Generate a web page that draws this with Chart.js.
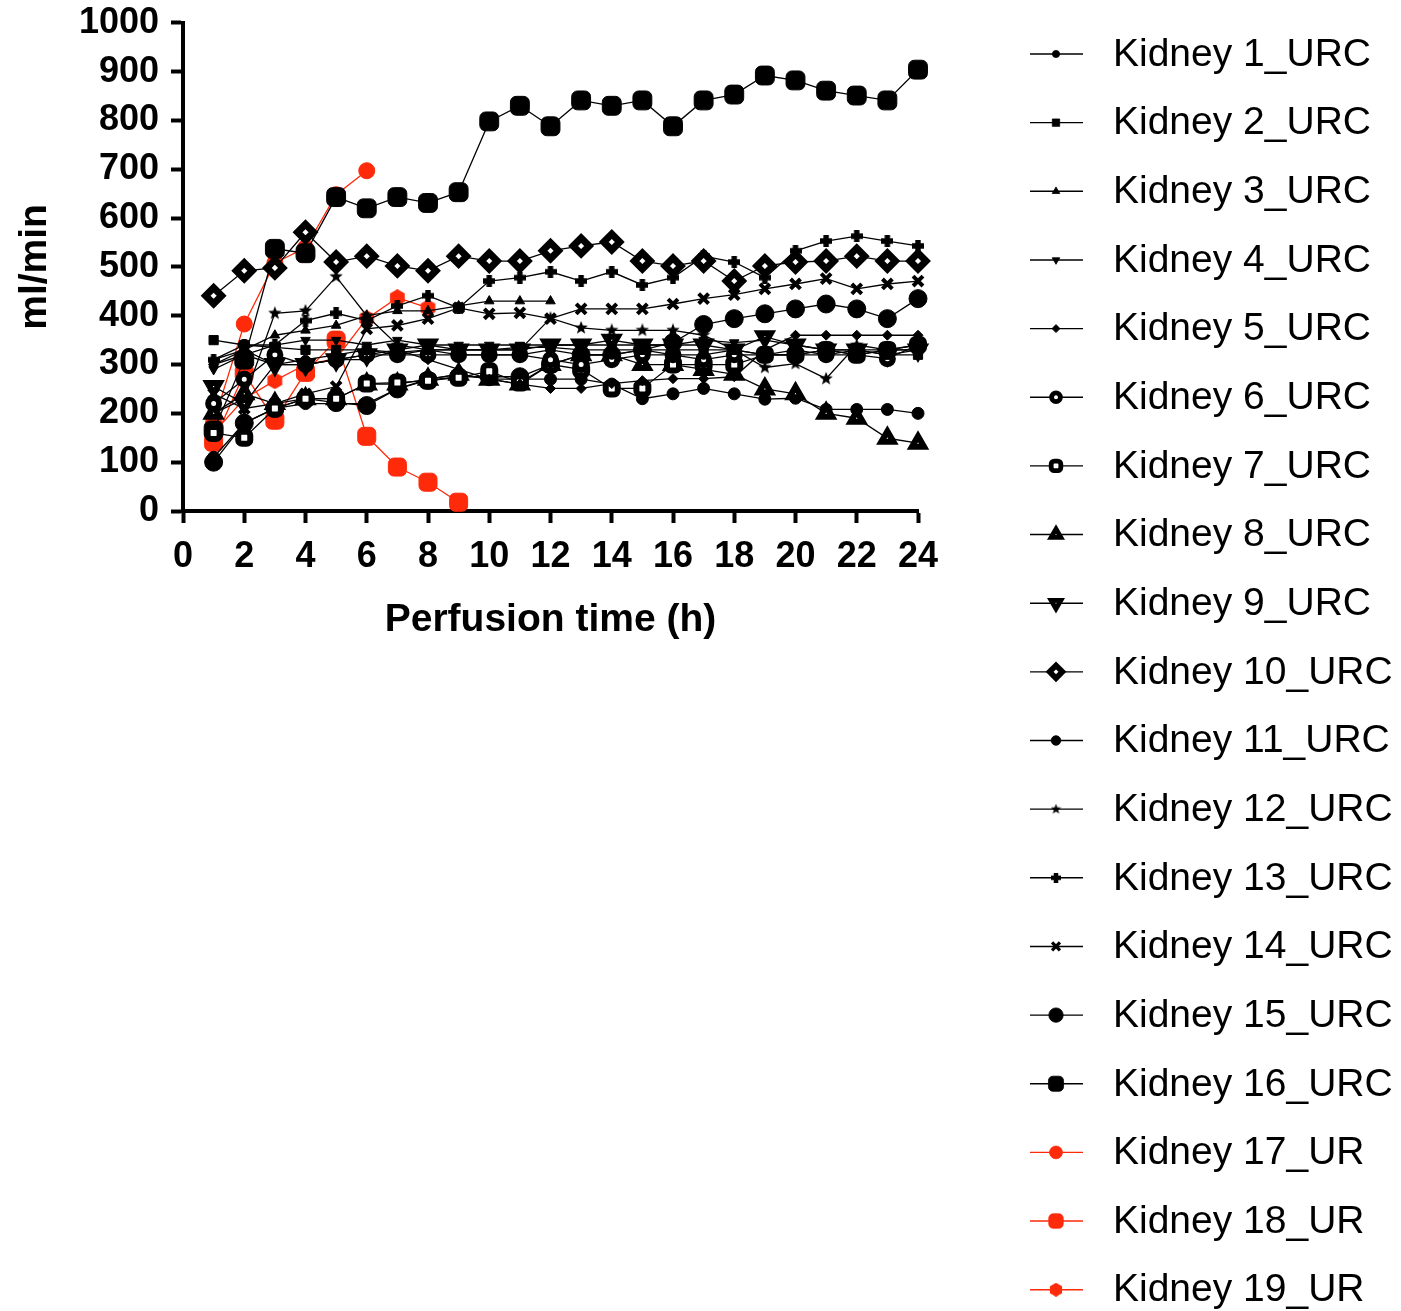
<!DOCTYPE html>
<html>
<head>
<meta charset="utf-8">
<script src="https://cdn.jsdelivr.net/npm/chart.js@4.4.1/dist/chart.umd.min.js"></script>
<style>
  html, body { margin: 0; padding: 0; background: #fff; }
  #wrap { width: 1401px; height: 1311px; position: relative; }
</style>
</head>
<body>
<div id="wrap"><canvas id="perfChart" width="1401" height="1311"></canvas></div>
<script>
// perfusion flow per kidney, hours 1..24 (ml/min)
const hours = [1, 2, 3, 4, 5, 6, 7, 8, 9, 10, 11, 12, 13, 14, 15, 16, 17, 18, 19, 20, 21, 22, 23, 24];
const xTicks = [0, 2, 4, 6, 8, 10, 12, 14, 16, 18, 20, 22, 24];
const yTicks = [0, 100, 200, 300, 400, 500, 600, 700, 800, 900, 1000];

const kidneyNames = [
    'Kidney 1_URC', 'Kidney 2_URC', 'Kidney 3_URC', 'Kidney 4_URC', 'Kidney 5_URC',
    'Kidney 6_URC', 'Kidney 7_URC', 'Kidney 8_URC', 'Kidney 9_URC', 'Kidney 10_URC',
    'Kidney 11_URC', 'Kidney 12_URC', 'Kidney 13_URC', 'Kidney 14_URC', 'Kidney 15_URC',
    'Kidney 16_URC', 'Kidney 17_UR', 'Kidney 18_UR', 'Kidney 19_UR'
];

const k1 = [300, 320, 300, 310, 320, 330, 320, 330, 320, 320, 320, 330, 320, 320, 330, 320, 320, 330, 320, 320, 330, 320, 330, 340];
const k2 = [350, 340, 335, 330, 330, 330, 325, 330, 330, 330, 335, 335, 330, 330, 330, 330, 330, 330, 320, 330, 320, 330, 320, 320];
const k3 = [310, 330, 360, 370, 380, 400, 410, 410, 420, 430, 430, 430];
const k4 = [290, 320, 340, 350, 350, 340, 350, 340, 340, 340, 340, 340, 340, 340, 340, 340, 350, 345, 350, 340, 330, 330, 330, 330];
const k5 = [300, 330, 300, 300, 310, 310, 330, 310, 290, 270, 260, 251, 251, 261, 267, 271, 271, 275, 330, 360, 360, 360, 360, 360];
const k6 = [220, 270, 320, 300, 310, 320, 320, 320, 320, 320, 320, 310, 300, 310, 320, 320, 310, 320, 320, 320, 320, 320, 312, 340];
const k7 = [160, 150, 210, 230, 230, 261, 263, 267, 273, 286, 263, 300, 290, 251, 251, 300, 300, 300, 320, 320, 330, 320, 330, 340];
const k8 = [200, 240, 220, 230, 230, 260, 260, 270, 280, 270, 260, 300, 320, 320, 300, 300, 290, 280, 250, 240, 200, 190, 149, 139];
const k9 = [255, 220, 300, 300, 310, 320, 330, 340, 330, 330, 330, 340, 340, 350, 340, 340, 340, 330, 357, 340, 330, 330, 320, 330];
const k10 = [441, 492, 498, 571, 510, 522, 502, 492, 522, 512, 512, 533, 543, 551, 512, 502, 512, 471, 502, 510, 512, 522, 512, 512];
const k11 = [110, 180, 210, 220, 220, 220, 250, 270, 280, 270, 270, 270, 270, 260, 230, 240, 251, 240, 229, 231, 208, 208, 208, 200];
const k12 = [200, 230, 405, 410, 480, 400, 340, 330, 330, 330, 330, 395, 375, 370, 370, 370, 360, 330, 294, 302, 271, 340, 330, 330];
const k13 = [310, 340, 340, 390, 405, 390, 420, 441, 416, 471, 478, 490, 471, 490, 463, 478, 522, 510, 478, 533, 553, 563, 553, 543];
const k14 = [240, 210, 220, 240, 255, 373, 380, 394, 416, 404, 406, 394, 414, 414, 414, 424, 435, 443, 455, 465, 476, 455, 465, 471];
const k15 = [100, 180, 210, 230, 222, 216, 250, 268, 275, 275, 275, 300, 320, 320, 330, 345, 382, 394, 404, 414, 424, 414, 394, 435];
const k16 = [165, 310, 537, 528, 643, 620, 643, 631, 653, 798, 830, 788, 841, 830, 841, 788, 841, 853, 892, 882, 861, 851, 841, 904];
const k17 = [182, 383, 508, 539, 648, 697];
const k18 = [141, 282, 186, 284, 350, 153, 90, 59, 18];
const k19 = [160, 230, 267, 300, 312, 394, 437, 416];

const kidneyValues = [k1, k2, k3, k4, k5, k6, k7, k8, k9, k10, k11, k12, k13, k14, k15, k16, k17, k18, k19];

const BLACK = '#000000';
const RED = '#ff2a0a';

// small canvases for the markers chart.js has no built-in for
function shapeMarker(size, color, pathFn) {
    const c = document.createElement('canvas');
    c.width = size; c.height = size;
    const g = c.getContext('2d');
    g.fillStyle = color;
    g.beginPath();
    pathFn(g, size / 2);
    g.closePath();
    g.fill();
    return c;
}

function hexPath(g, r) {
    for (let i = 0; i < 6; i++) {
        const a = Math.PI / 6 + i * Math.PI / 3;
        const px = r + r * Math.cos(a), py = r + r * Math.sin(a);
        if (i === 0) g.moveTo(px, py); else g.lineTo(px, py);
    }
}

function starPath(g, r) {
    for (let i = 0; i < 10; i++) {
        const a = -Math.PI / 2 + i * Math.PI / 5;
        const rr = i % 2 === 0 ? r : r * 0.42;
        const px = r + rr * Math.cos(a), py = r + rr * Math.sin(a);
        if (i === 0) g.moveTo(px, py); else g.lineTo(px, py);
    }
}

function plusPath(g, r) {
    const w = r * 0.45;
    g.moveTo(r - w, 0); g.lineTo(r + w, 0); g.lineTo(r + w, r - w);
    g.lineTo(2 * r, r - w); g.lineTo(2 * r, r + w); g.lineTo(r + w, r + w);
    g.lineTo(r + w, 2 * r); g.lineTo(r - w, 2 * r); g.lineTo(r - w, r + w);
    g.lineTo(0, r + w); g.lineTo(0, r - w); g.lineTo(r - w, r - w);
}

const hexRed = shapeMarker(17, RED, hexPath);
const starBlack = shapeMarker(14, BLACK, starPath);
const plusBlack = shapeMarker(12, BLACK, plusPath);
const hexRedSmall = shapeMarker(14, RED, hexPath);
const starBlackSmall = shapeMarker(11, BLACK, starPath);
const plusBlackSmall = shapeMarker(10, BLACK, plusPath);

// marker look per kidney
const markerStyles = [
    { style: 'circle', radius: 4.5, rotation: 0, fill: BLACK, border: 1 },
    { style: 'rect', radius: 6.5, rotation: 0, fill: BLACK, border: 1 },
    { style: 'triangle', radius: 5.5, rotation: 0, fill: BLACK, border: 1 },
    { style: 'triangle', radius: 5.5, rotation: 180, fill: BLACK, border: 1 },
    { style: 'rectRot', radius: 5, rotation: 0, fill: BLACK, border: 1 },
    { style: 'circle', radius: 5.5, rotation: 0, fill: '#ffffff', border: 6 },
    { style: 'rectRounded', radius: 7, rotation: 0, fill: '#ffffff', border: 6 },
    { style: 'triangle', radius: 7, rotation: 0, fill: '#ffffff', border: 6 },
    { style: 'triangle', radius: 7, rotation: 180, fill: '#ffffff', border: 6 },
    { style: 'rectRot', radius: 8, rotation: 0, fill: '#ffffff', border: 7 },
    { style: 'circle', radius: 6, rotation: 0, fill: BLACK, border: 1 },
    { style: starBlack, legend: starBlackSmall, radius: 7, rotation: 0, fill: BLACK, border: 1 },
    { style: plusBlack, legend: plusBlackSmall, radius: 6, rotation: 0, fill: BLACK, border: 1 },
    { style: 'crossRot', radius: 7, rotation: 0, fill: BLACK, border: 4 },
    { style: 'circle', radius: 9, rotation: 0, fill: BLACK, border: 1 },
    { style: 'rectRounded', radius: 11, rotation: 0, fill: BLACK, border: 1 },
    { style: 'circle', radius: 8, rotation: 0, fill: RED, border: 1 },
    { style: 'rectRounded', radius: 10.5, rotation: 0, fill: RED, border: 1 },
    { style: hexRed, legend: hexRedSmall, radius: 8, rotation: 0, fill: RED, border: 1 }
];

const datasets = kidneyNames.map((name, i) => {
    const color = i >= 16 ? RED : BLACK;
    const m = markerStyles[i];
    return {
        label: name,
        data: kidneyValues[i].map((v, j) => ({ x: hours[j], y: v })),
        borderColor: color,
        backgroundColor: color,
        borderWidth: 1.3,
        tension: 0,
        clip: false,
        pointStyle: m.style,
        pointRadius: m.radius,
        pointRotation: m.rotation,
        pointBackgroundColor: m.fill,
        pointBorderColor: color,
        pointBorderWidth: m.border,
        pointHoverRadius: m.radius
    };
});

// legend on the right, line sample + marker + name
const sideLegend = {
    id: 'sideLegend',
    afterDraw(chart) {
        const ctx = chart.ctx;
        const startY = 54;
        const stepY = 68.65;
        ctx.save();
        chart.data.datasets.forEach((ds, i) => {
            const y = startY + i * stepY;
            ctx.strokeStyle = ds.borderColor;
            ctx.lineWidth = 1.4;
            ctx.beginPath();
            ctx.moveTo(1030, y);
            ctx.lineTo(1083, y);
            ctx.stroke();

            const m = markerStyles[i];
            ctx.fillStyle = m.fill;
            ctx.strokeStyle = ds.borderColor;
            ctx.lineWidth = m.border * 0.8;
            const opts = {
                pointStyle: m.legend || m.style,
                radius: m.radius * 0.8,
                rotation: m.rotation,
                borderWidth: m.border * 0.8
            };
            if (Chart.helpers && Chart.helpers.drawPoint) {
                Chart.helpers.drawPoint(ctx, opts, 1056, y);
            } else {
                ctx.beginPath();
                ctx.arc(1056, y, opts.radius, 0, Math.PI * 2);
                ctx.fill();
            }

            ctx.fillStyle = BLACK;
            ctx.font = '39px "Liberation Sans", Arial, sans-serif';
            ctx.textAlign = 'left';
            ctx.textBaseline = 'middle';
            ctx.fillText(ds.label, 1113, y + 1);
        });
        ctx.restore();
    }
};

const ctx = document.getElementById('perfChart').getContext('2d');

new Chart(ctx, {
    type: 'line',
    data: { datasets: datasets },
    options: {
        responsive: false,
        animation: false,
        events: [],
        layout: {
            padding: { left: 0, top: 21, right: 1401 - 918, bottom: 1311 - 650 }
        },
        plugins: {
            legend: { display: false },
            tooltip: { enabled: false }
        },
        scales: {
            x: {
                type: 'linear',
                min: 0,
                max: 24,
                afterBuildTicks: (scale) => {
                    scale.ticks = xTicks.map(v => ({ value: v }));
                },
                afterFit: (scale) => { scale.height = 650 - 511; },
                border: { display: true, color: BLACK, width: 4 },
                grid: {
                    drawOnChartArea: false,
                    drawTicks: true,
                    tickLength: 12,
                    tickWidth: 4,
                    color: BLACK
                },
                ticks: {
                    color: BLACK,
                    padding: 12,
                    maxRotation: 0,
                    autoSkip: false,
                    callback: (v) => String(v),
                    font: { family: '"Liberation Sans", Arial, sans-serif', size: 36, weight: 'bold' }
                },
                title: {
                    display: true,
                    text: 'Perfusion time (h)',
                    color: BLACK,
                    padding: { top: 0, bottom: 6 },
                    font: { family: '"Liberation Sans", Arial, sans-serif', size: 39, weight: 'bold' }
                }
            },
            y: {
                type: 'linear',
                min: 0,
                max: 1000,
                afterBuildTicks: (scale) => {
                    scale.ticks = yTicks.map(v => ({ value: v }));
                },
                afterFit: (scale) => { scale.width = 183; },
                border: { display: true, color: BLACK, width: 4 },
                grid: {
                    drawOnChartArea: false,
                    drawTicks: true,
                    tickLength: 12,
                    tickWidth: 4,
                    color: BLACK
                },
                ticks: {
                    color: BLACK,
                    padding: 12,
                    autoSkip: false,
                    callback: (v) => String(v),
                    font: { family: '"Liberation Sans", Arial, sans-serif', size: 36, weight: 'bold', lineHeight: 0.6 }
                },
                title: {
                    display: true,
                    text: 'ml/min',
                    color: BLACK,
                    padding: { top: 12, bottom: 0 },
                    font: { family: '"Liberation Sans", Arial, sans-serif', size: 39, weight: 'bold' }
                }
            }
        }
    },
    plugins: [sideLegend]
});
</script>
</body>
</html>
